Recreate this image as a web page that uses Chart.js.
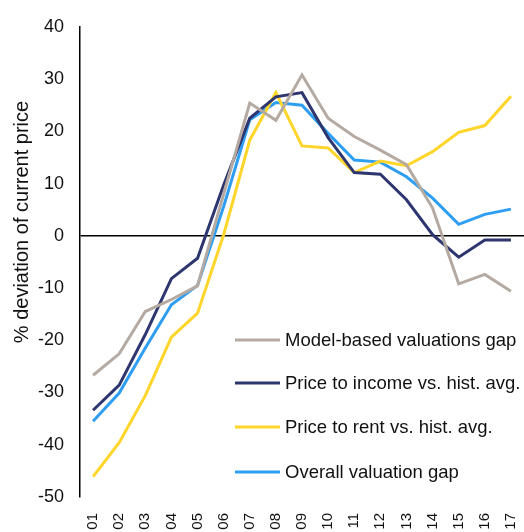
<!DOCTYPE html>
<html>
<head>
<meta charset="utf-8">
<script src="https://cdn.jsdelivr.net/npm/chart.js@4"></script>
<style>
  html, body { margin: 0; padding: 0; background: #fff; }
  #wrap { width: 524px; height: 532px; }
</style>
</head>
<body>
<div id="wrap"><canvas id="myChart" width="524" height="532"></canvas></div>
<script>
const years = ["01", "02", "03", "04", "05", "06", "07", "08", "09", "10", "11", "12", "13", "14", "15", "16", "17"];
const modelGap = [-26.7, -22.6, -14.5, -12.2, -9.6, 8, 25.4, 22.1, 30.8, 22.5, 19.0, 16.4, 13.6, 5.3, -9.2, -7.4, -10.6];
const priceIncome = [-33.4, -28.6, -18.9, -8.2, -4.3, 9.7, 22.5, 26.6, 27.4, 18.8, 12.1, 11.8, 6.9, 0.2, -4.1, -0.8, -0.8];
const priceRent = [-46.1, -39.6, -30.6, -19.4, -14.8, 0.2, 18.3, 27.4, 17.2, 16.8, 12.1, 14.3, 13.4, 16.1, 19.8, 21.1, 26.7];
const overallGap = [-35.5, -30.1, -21.5, -13.2, -9.5, 5.6, 22.2, 25.5, 25.0, 19.6, 14.5, 14.1, 11.3, 7.2, 2.2, 4.1, 5.1];
const yTicks = [40, 30, 20, 10, 0, -10, -20, -30, -40, -50];
const yTitle = "% deviation of current price";

const fontFam = "'Liberation Sans', Arial, sans-serif";

// legend drawn inside the plot, bottom right; y title drawn by hand (it sits above centre)
const extras = {
  id: "extras",
  afterDraw(chart) {
    const ctx = chart.ctx;
    const rows = [340, 383, 427, 472];
    ctx.save();
    ctx.font = "18.5px " + fontFam;
    ctx.textBaseline = "middle";
    chart.data.datasets.forEach((ds, i) => {
      const y = rows[i];
      ctx.strokeStyle = ds.borderColor;
      ctx.lineWidth = 3;
      ctx.beginPath();
      ctx.moveTo(235, y);
      ctx.lineTo(280, y);
      ctx.stroke();
      ctx.fillStyle = "#111";
      ctx.fillText(ds.label, 285, y + 1);
    });
    ctx.translate(22, 222);
    ctx.rotate(-Math.PI / 2);
    ctx.textAlign = "center";
    ctx.font = "20px " + fontFam;
    ctx.fillText(yTitle, 0, 0);
    ctx.restore();
  }
};

const ctx = document.getElementById("myChart").getContext("2d");
const myChart = new Chart(ctx, {
  type: "line",
  data: {
    labels: years,
    datasets: [
      { label: "Model-based valuations gap", data: modelGap, borderColor: "#B5AAA2" },
      { label: "Price to income vs. hist. avg.", data: priceIncome, borderColor: "#2E3670" },
      { label: "Price to rent vs. hist. avg.", data: priceRent, borderColor: "#FFD52A" },
      { label: "Overall valuation gap", data: overallGap, borderColor: "#2E9EF3" }
    ].map(d => Object.assign(d, { borderWidth: 3, pointRadius: 0, tension: 0, fill: false }))
  },
  options: {
    responsive: false,
    animation: false,
    layout: { padding: { top: 26, right: 0, left: 0, bottom: 0 } },
    plugins: {
      legend: { display: false },
      tooltip: { enabled: false }
    },
    scales: {
      x: {
        offset: true,
        grid: { display: false, drawTicks: false },
        border: { display: false },
        ticks: {
          color: "#111",
          font: { family: fontFam, size: 15 },
          maxRotation: 90,
          minRotation: 90,
          padding: 16,
          autoSkip: false
        },
        afterFit(scale) {
          scale.height = 35;
          scale.paddingLeft = 0;
          scale.paddingRight = 0;
        }
      },
      y: {
        min: -50,
        max: 40,
        afterBuildTicks(scale) { scale.ticks = yTicks.map(v => ({ value: v })); },
        grid: {
          drawTicks: false,
          color: c => (c.tick && c.tick.value === 0 ? "#000" : "transparent"),
          lineWidth: 1.5
        },
        border: { display: true, color: "#000", width: 1.5 },
        ticks: {
          color: "#111",
          font: { family: fontFam, size: 18 },
          padding: 16
        },
        afterFit(scale) { scale.width = 80; }
      }
    }
  },
  plugins: [extras]
});
</script>
</body>
</html>
